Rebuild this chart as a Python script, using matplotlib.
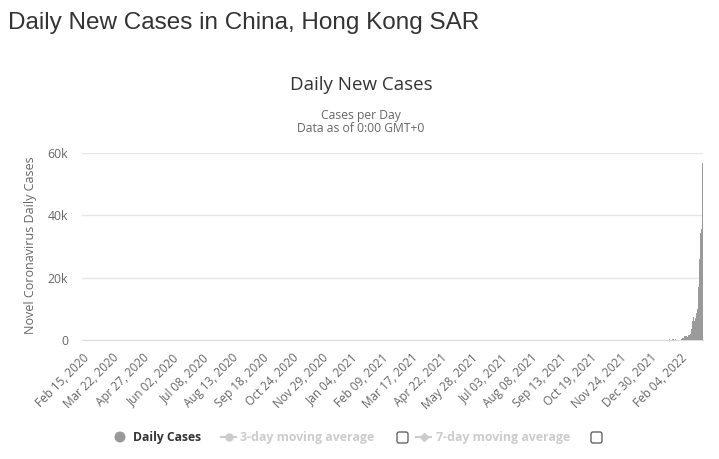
import numpy as np
import pandas as pd
import matplotlib
matplotlib.use("Agg")
import matplotlib.pyplot as plt
from matplotlib.patches import Circle, FancyBboxPatch
from matplotlib.lines import Line2D

# daily new cases, Hong Kong, Feb 15 2020 .. Mar 03 2022 (read/estimated from chart)
start_date = "2020-02-15"
cases_2020 = [
    # Feb 15-29
    1, 1, 2, 3, 3, 2, 5, 1, 4, 3, 0, 4, 2, 1, 2,
    # Mar
    2, 1, 0, 1, 1, 2, 3, 1, 3, 5, 10, 4, 5, 8, 6, 8, 10, 25, 16, 40, 48, 44, 39, 30, 24, 51, 65, 64, 59, 32, 32,
    # Apr
    45, 37, 26, 42, 20, 17, 24, 19, 25, 27, 3, 5, 6, 3, 1, 5, 4, 1, 2, 4, 4, 0, 4, 1, 0, 2, 1, 0, 1, 0,
    # May
    1, 0, 0, 0, 0, 0, 0, 0, 0, 0, 0, 0, 2, 2, 3, 0, 0, 1, 1, 0, 0, 0, 0, 1, 2, 1, 1, 0, 1, 2, 2,
    # Jun
    2, 1, 0, 3, 1, 8, 5, 8, 6, 9, 3, 2, 10, 2, 6, 4, 3, 3, 9, 8, 2, 5, 7, 1, 2, 4, 2, 1, 2, 5,
    # Jul
    4, 2, 10, 7, 19, 14, 9, 24, 42, 38, 28, 52, 41, 52, 19, 61, 67, 58, 108, 73, 61, 113, 118, 113, 123, 127, 145, 106, 118, 149, 121,
    # Aug
    125, 115, 80, 80, 85, 95, 69, 89, 72, 69, 33, 69, 33, 69, 48, 62, 44, 27, 39, 21, 19, 27, 18, 26, 9, 14, 14, 18, 23, 18, 7,
    # Sep
    8, 10, 8, 10, 9, 6, 7, 6, 5, 15, 16, 6, 6, 9, 3, 7, 8, 9, 15, 14, 3, 1, 9, 14, 23, 19, 10, 9, 14, 11,
    # Oct
    7, 6, 5, 18, 9, 12, 7, 9, 5, 6, 6, 10, 10, 7, 10, 14, 5, 4, 9, 11, 8, 12, 4, 9, 3, 9, 4, 9, 3, 7, 4,
    # Nov
    3, 8, 5, 4, 1, 11, 6, 5, 10, 7, 7, 11, 7, 14, 12, 8, 13, 8, 21, 26, 43, 68, 73, 21, 80, 81, 92, 76, 115, 73,
    # Dec
    73, 104, 79, 86, 96, 101, 78, 86, 105, 100, 81, 88, 88, 67, 109, 81, 71, 70, 67, 48, 89, 69, 62, 56, 83, 58, 62, 48, 61, 34, 39,
]
cases_2021 = [
    # Jan
    47, 32, 57, 43, 53, 27, 30, 28, 48, 70, 55, 34, 53, 56, 56, 51, 49, 48, 54, 63, 56, 76, 82, 57, 81, 62, 50, 47, 45, 60, 27,
    # Feb
    13, 20, 18, 14, 33, 27, 29, 14, 7, 12, 5, 11, 6, 9, 10, 10, 19, 12, 18, 20, 8, 16, 17, 18, 6, 8, 8, 12,
    # Mar
    16, 14, 10, 14, 13, 21, 16, 30, 37, 30, 27, 19, 20, 18, 21, 14, 10, 11, 9, 5, 10, 15, 11, 14, 12, 9, 5, 11, 8, 5, 6,
    # Apr
    7, 13, 6, 6, 12, 8, 7, 5, 3, 9, 2, 5, 1, 2, 5, 0, 2, 18, 8, 18, 8, 7, 10, 11, 1, 4, 5, 3, 4, 13,
    # May
    1, 1, 1, 4, 5, 0, 0, 1, 1, 1, 0, 1, 2, 0, 2, 2, 3, 2, 2, 4, 0, 1, 2, 0, 1, 2, 3, 0, 1, 3, 4,
    # Jun
    6, 2, 3, 3, 2, 5, 1, 3, 2, 1, 1, 0, 2, 2, 2, 3, 3, 0, 6, 3, 5, 3, 3, 3, 1, 3, 4, 5, 2, 0,
    # Jul
    3, 1, 2, 0, 1, 2, 0, 3, 4, 5, 4, 2, 0, 2, 4, 3, 2, 3, 4, 3, 1, 4, 2, 3, 0, 2, 1, 0, 4, 2, 1,
    # Aug
    2, 1, 3, 0, 3, 2, 5, 1, 3, 1, 0, 3, 6, 3, 2, 1, 2, 2, 4, 2, 3, 6, 0, 2, 1, 2, 2, 6, 5, 1, 3,
    # Sep
    1, 4, 2, 3, 1, 2, 3, 2, 1, 3, 2, 3, 2, 2, 1, 0, 3, 2, 2, 0, 5, 2, 1, 2, 1, 2, 0, 3, 5, 2,
    # Oct
    3, 3, 2, 2, 5, 1, 1, 4, 2, 2, 0, 2, 1, 1, 5, 3, 1, 2, 0, 1, 1, 3, 2, 0, 1, 1, 2, 0, 2, 1, 1,
    # Nov
    2, 2, 4, 2, 2, 0, 1, 1, 1, 1, 2, 2, 4, 3, 2, 0, 3, 1, 2, 4, 2, 3, 4, 3, 4, 2, 1, 1, 2, 2,
    # Dec
    4, 1, 2, 2, 5, 5, 2, 0, 7, 2, 5, 6, 5, 2, 11, 11, 6, 6, 11, 8, 9, 9, 10, 14, 8, 10, 10, 21, 10, 27, 14,
]
cases_2022 = [
    # Jan
    23, 33, 13, 41, 48, 44, 40, 34, 49, 24, 41, 70, 61, 35, 34, 65, 100, 52, 83, 105, 140, 164, 125, 110, 107, 164, 164, 121, 165, 126, 85,
    # Feb
    131, 142, 107, 131, 351, 342, 614, 625, 1161, 1325, 1514, 1347, 1100, 1509, 1619, 2071, 4285, 3629, 6063, 7533, 6067, 7211, 8798, 8798, 10010, 17063, 26026, 34466,
    # Mar 1-3
    32597, 35500, 56827,
]

daily_cases = cases_2020 + cases_2021 + cases_2022
dates = pd.date_range(start_date, periods=len(daily_cases), freq="D")
date_labels = [d.strftime("%b %d, %Y") for d in dates]
label_step = 36

y_ticks = [0, 20000, 40000, 60000]
y_tick_labels = ["0", "20k", "40k", "60k"]

W, H = 719, 459
fig = plt.figure(figsize=(W / 100, H / 100), dpi=100)
fig.patch.set_facecolor("white")

plot_left, plot_right, plot_top, plot_bottom = 82, 703, 153, 340
ax = fig.add_axes([plot_left / W, 1 - plot_bottom / H,
                   (plot_right - plot_left) / W, (plot_bottom - plot_top) / H])

x = np.arange(len(daily_cases))
ax.bar(x, daily_cases, width=1.0, color="#9a9a9a", linewidth=0, zorder=3)
ax.set_xlim(-0.5, len(daily_cases) - 0.5)
ax.set_ylim(0, 60000)

ax.set_yticks(y_ticks)
ax.set_yticklabels(y_tick_labels)
ax.grid(axis="y", color="#e6e6e6", linewidth=1, zorder=0)
ax.tick_params(axis="y", length=0, pad=10, labelsize=8.8, labelcolor="#666666")
for lbl in ax.get_yticklabels():
    lbl.set_fontfamily("Open Sans")

tick_pos = x[::label_step]
ax.set_xticks(tick_pos)
ax.set_xticklabels([date_labels[i] for i in tick_pos], rotation=45, ha="right",
                   rotation_mode="anchor", fontsize=8.5, color="#666666",
                   family="Open Sans")
ax.tick_params(axis="x", length=0, pad=8)
for side in ["top", "right", "left"]:
    ax.spines[side].set_visible(False)
ax.spines["bottom"].set_color("#dcdcdc")

# overlay in pixel coordinates for titles and legend
ov = fig.add_axes([0, 0, 1, 1], zorder=-1)
ov.set_xlim(0, W)
ov.set_ylim(H, 0)
ov.axis("off")

ov.text(8, 23, "Daily New Cases in China, Hong Kong SAR", fontsize=17.5,
        family="Liberation Sans", color="#333333", va="center", ha="left")
ov.text(361, 85, "Daily New Cases", fontsize=13.5, family="Open Sans",
        color="#333333", va="center", ha="center")
ov.text(361, 115, "Cases per Day", fontsize=8.7, family="Open Sans",
        color="#666666", va="center", ha="center")
ov.text(361, 129, "Data as of 0:00 GMT+0", fontsize=8.7, family="Open Sans",
        color="#666666", va="center", ha="center")
ov.text(31, 245, "Novel Coronavirus Daily Cases", fontsize=9, family="Open Sans",
        color="#666666", va="center", ha="center", rotation=90)

# legend
leg_y = 437
ov.add_patch(Circle((120, leg_y), 5.5, color="#999999", lw=0))
ov.text(133, leg_y, "Daily Cases", fontsize=8.7, family="Open Sans", weight="bold",
        color="#333333", va="center", ha="left")
ov.add_line(Line2D([221, 236], [leg_y, leg_y], color="#cccccc", lw=1.5))
ov.plot([228.5], [leg_y], marker="o", ms=5, color="#cccccc")
ov.text(240, leg_y, "3-day moving average", fontsize=8.9, family="Open Sans",
        weight="bold", color="#cccccc", va="center", ha="left")
ov.add_line(Line2D([416, 431], [leg_y, leg_y], color="#cccccc", lw=1.5))
ov.plot([423.5], [leg_y], marker="D", ms=4, color="#cccccc")
ov.text(436, leg_y, "7-day moving average", fontsize=8.9, family="Open Sans",
        weight="bold", color="#cccccc", va="center", ha="left")
for bx in [397, 591]:
    ov.add_patch(FancyBboxPatch((bx, leg_y - 5), 11, 11,
                                boxstyle="round,pad=0,rounding_size=2",
                                fc="white", ec="#555555", lw=0.9))

fig.savefig("out.png", dpi=100, facecolor="white")
